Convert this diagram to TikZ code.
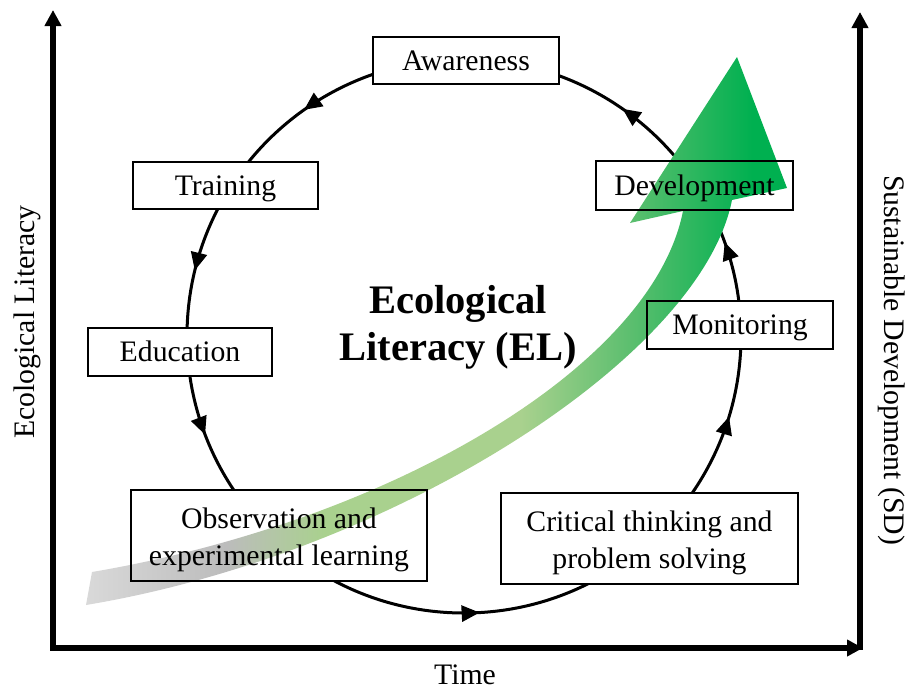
\documentclass[tikz,border=0pt]{standalone}
\usepackage{fontspec}
\setmainfont{Liberation Serif}
\usetikzlibrary{arrows.meta,decorations.markings}
\definecolor{gA}{RGB}{217,217,217}
\definecolor{gB}{RGB}{188,188,188}
\definecolor{gC}{RGB}{169,209,142}
\definecolor{gD}{RGB}{90,190,110}
\definecolor{gE}{RGB}{0,176,80}
\pgfdeclarehorizontalshading{bandshade}{100bp}{color(0bp)=(gA); color(25bp)=(gA); color(35bp)=(gB); color(42bp)=(gC); color(56bp)=(gC); color(64bp)=(gD); color(72.5bp)=(gE); color(100bp)=(gE)}
\pgfdeclarelayer{bg}
\pgfdeclarelayer{mid}
\pgfsetlayers{bg,mid,main}
\begin{document}
\begin{tikzpicture}[x=0.75pt,y=0.75pt,
  cirtip/.tip={Triangle[length=13.5pt,width=12pt]},
  axtip/.tip={Triangle[length=12pt,width=12pt]},
  axis/.style={line width=4.2pt},
  circ/.style={line width=2.25pt, postaction={decorate},
    decoration={markings,
      mark=at position 0.055 with {\arrow{cirtip}},
      mark=at position 0.153 with {\arrow{cirtip}},
      mark=at position 0.348 with {\arrow{cirtip}},
      mark=at position 0.462 with {\arrow{cirtip}},
      mark=at position 0.558 with {\arrow{cirtip}},
      mark=at position 0.759 with {\arrow{cirtip}},
      mark=at position 0.953 with {\arrow{cirtip}}}},
  boxbase/.style={draw, line width=1.7pt, inner sep=0pt, align=center,
    font=\fontsize{22.3pt}{27.75pt}\selectfont},
  onebox/.style={boxbase, text height=16.7pt, text depth=2.45pt},
  twobox/.style={boxbase},
  lbl/.style={inner sep=0pt, font=\fontsize{22.3pt}{27pt}\selectfont, text height=16.7pt, text depth=2.45pt},
  ttl/.style={inner sep=0pt, anchor=base, font=\fontsize{30.4pt}{36pt}\selectfont\bfseries}
]
\useasboundingbox (0,0) rectangle (908,-689);

% boxes (borders and text on top)
\node[onebox, minimum width=139.5pt, minimum height=35.25pt] (aw) at (466,-60.5) {Awareness};
\node[onebox, minimum width=138.75pt, minimum height=35.25pt] (tr) at (225.5,-185.5) {Training};
\node[onebox, minimum width=138pt, minimum height=36pt] (ed) at (180,-352) {Education};
\node[twobox, minimum width=222pt, minimum height=68.25pt] (ob) at (279,-535.5) {\rule{0pt}{21.5pt}Observation and\\experimental learning};
\node[twobox, minimum width=222.75pt, minimum height=68.25pt] (cr) at (649.5,-538.5) {\rule{0pt}{21.5pt}Critical thinking and\\problem solving};
\node[onebox, minimum width=139.5pt, minimum height=36pt] (mo) at (740,-325) {Monitoring};
\node[onebox, minimum width=147.75pt, minimum height=36.75pt] (de) at (694.5,-185.5) {Development};

% title
\node[ttl] (t1) at (458,-313) {Ecological};
\node[ttl] (t2) at (458,-360) {Literacy (EL)};

% axis labels
\node[lbl, rotate=90] (yl) at (25.5,-322) {Ecological Literacy};
\node[lbl, rotate=-90] (yr) at (893.5,-360) {Sustainable Development (SD)};
\node[lbl] (xl) at (465,-675) {Time};

% axes
\coordinate (ytip) at (53,-10);
\coordinate (orig) at (53,-648);
\coordinate (xtip) at (863,-648);
\coordinate (rbase) at (860,-650.1);
\coordinate (rtip) at (860,-12);
\draw[axis,{axtip}-{axtip}] (ytip) -- (orig) -- (xtip);
\draw[axis,-{axtip}] (rbase) -- (rtip);

\begin{pgfonlayer}{bg}
  \coordinate (cc) at (464,-336);
  \draw[circ] (cc) circle[radius=277];
\end{pgfonlayer}

\begin{pgfonlayer}{mid}
  \foreach \n in {aw,tr,ed,ob,cr,mo,de}
    \fill[white] (\n.south west) rectangle (\n.north east);
  \shade[shading=bandshade]
    (92,-572) .. controls (387,-522) and (652,-368) .. (683,-211)
    -- (630,-223) -- (737,-57) -- (787,-188) -- (732,-200)
    .. controls (701,-357) and (393,-554) .. (86,-605) -- cycle;
\end{pgfonlayer}
\end{tikzpicture}
\end{document}
